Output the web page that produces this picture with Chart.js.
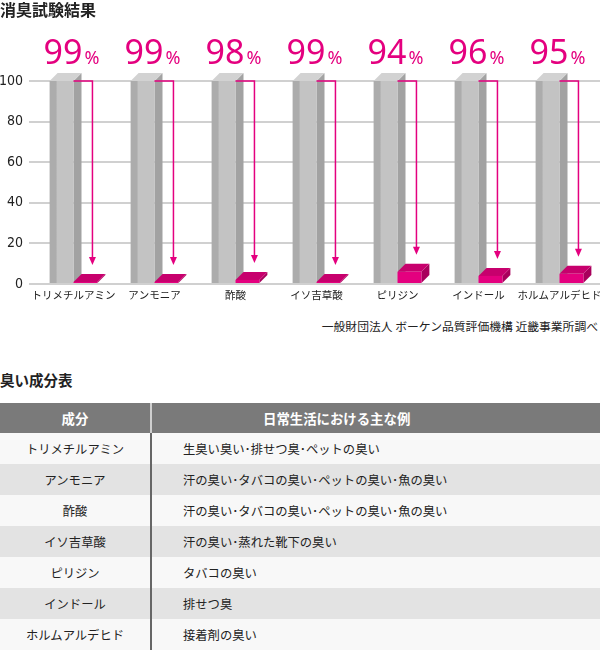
<!DOCTYPE html>
<html lang="ja">
<head>
<meta charset="utf-8">
<title>消臭試験結果</title>
<script src="https://cdn.jsdelivr.net/npm/chart.js@4.4.1/dist/chart.umd.min.js"></script>
<style>
  html, body { margin: 0; padding: 0; background: #fff; }
  body {
    width: 600px; height: 650px; position: relative; overflow: hidden;
    font-family: "Noto Sans CJK JP", sans-serif; color: #222;
  }
  #chartBox { position: absolute; left: 0; top: 0; }
  .heading { position: absolute; left: 0; font-weight: bold; line-height: 18px; }
  .source { position: absolute; right: 2px; top: 317px; font-size: 11.8px; line-height: 18px; color: #222; }
  table {
    position: absolute; left: 0; top: 403px; width: 600px;
    border-collapse: collapse; table-layout: fixed;
  }
  th, td { padding: 0; }
  th { background: #7a7a7a; color: #fff; height: 30px; font-size: 13.4px; font-weight: bold; text-align: center; }
  th.c1 { border-right: 2px solid #cfcfcf; }
  th.c2 { text-align: left; padding-left: 111px; }
  td { height: 31px; font-size: 12.3px; color: #222; }
  td.c1 { text-align: center; border-right: 2px solid #666; }
  td.c2 { padding-left: 31px; }
  tbody tr:nth-child(odd) td { background: #f8f8f8; }
  tbody tr:nth-child(even) td { background: #e3e3e3; }
</style>
</head>
<body>
<canvas id="chartBox" width="600" height="305"></canvas>
<div class="heading" style="top:0; font-size:16px">消臭試験結果</div>
<div class="source">一般財団法人 ボーケン品質評価機構 近畿事業所調べ</div>
<div class="heading" style="top:371px; font-size:14.5px">臭い成分表</div>
<table>
  <colgroup><col style="width:151px"><col></colgroup>
  <thead><tr><th class="c1">成分</th><th class="c2">日常生活における主な例</th></tr></thead>
  <tbody id="odorRows"></tbody>
</table>

<script>
// 試験データ
const categories = ["トリメチルアミン", "アンモニア", "酢酸", "イソ吉草酸", "ピリジン", "インドール", "ホルムアルデヒド"];
const beforeValues = [100, 100, 100, 100, 100, 100, 100];
const afterValues = [1, 1, 2, 1, 6, 4, 5];
const reductionRates = [99, 99, 98, 99, 94, 96, 95];
const yTicks = [0, 20, 40, 60, 80, 100];

// 臭い成分表
const examples = [
  "生臭い臭い･排せつ臭･ペットの臭い",
  "汗の臭い･タバコの臭い･ペットの臭い･魚の臭い",
  "汗の臭い･タバコの臭い･ペットの臭い･魚の臭い",
  "汗の臭い･蒸れた靴下の臭い",
  "タバコの臭い",
  "排せつ臭",
  "接着剤の臭い"
];

const PINK = "#e4007f";
const DEPTH = 8;

const tbody = document.getElementById("odorRows");
categories.forEach((name, i) => {
  const tr = document.createElement("tr");
  tr.innerHTML = '<td class="c1">' + name + '</td><td class="c2">' + examples[i] + '</td>';
  tbody.appendChild(tr);
});

function drawBox(ctx, bar, faces) {
  const left = bar.x - bar.width / 2;
  const right = bar.x + bar.width / 2;
  const top = Math.min(bar.y, bar.base);
  const bottom = Math.max(bar.y, bar.base);

  // 側面
  ctx.fillStyle = faces.side;
  ctx.beginPath();
  ctx.moveTo(right, top);
  ctx.lineTo(right + DEPTH, top - DEPTH);
  ctx.lineTo(right + DEPTH, bottom - DEPTH);
  ctx.lineTo(right, bottom);
  ctx.closePath();
  ctx.fill();

  // 上面
  ctx.fillStyle = faces.top;
  ctx.beginPath();
  ctx.moveTo(left, top);
  ctx.lineTo(left + DEPTH, top - DEPTH);
  ctx.lineTo(right + DEPTH, top - DEPTH);
  ctx.lineTo(right, top);
  ctx.closePath();
  ctx.fill();

  // 正面
  if (faces.edge) {
    const g = ctx.createLinearGradient(left, 0, right, 0);
    g.addColorStop(0, faces.edge);
    g.addColorStop(0.28, faces.edge);
    g.addColorStop(0.3, faces.front);
    g.addColorStop(1, faces.front);
    ctx.fillStyle = g;
  } else {
    ctx.fillStyle = faces.front;
  }
  ctx.fillRect(left, top, right - left, bottom - top);
}

const bars3d = {
  id: "bars3d",
  afterDatasetsDraw(chart) {
    const ctx = chart.ctx;
    const y = chart.scales.y;
    const grayBars = chart.getDatasetMeta(0).data;
    const pinkBars = chart.getDatasetMeta(1).data;
    const y100 = y.getPixelForValue(100);

    ctx.save();
    grayBars.forEach((gb, i) => {
      const pb = pinkBars[i];
      drawBox(ctx, gb, { front: "#c3c3c3", edge: "#acacac", side: "#a2a2a2", top: "#d2d2d2" });
      drawBox(ctx, pb, { front: PINK, side: "#a8005c", top: "#c7006d" });

      // 矢印
      const startX = gb.x + gb.width / 2;
      const ax = pb.x + 7;
      const tipY = pb.y - DEPTH - 9;
      ctx.strokeStyle = PINK;
      ctx.lineWidth = 1.5;
      ctx.beginPath();
      ctx.moveTo(startX, y100);
      ctx.lineTo(ax, y100);
      ctx.lineTo(ax, tipY - 6);
      ctx.stroke();
      ctx.fillStyle = PINK;
      ctx.beginPath();
      ctx.moveTo(ax - 3.5, tipY - 8);
      ctx.lineTo(ax + 3.5, tipY - 8);
      ctx.lineTo(ax, tipY);
      ctx.closePath();
      ctx.fill();

      // 除去率ラベル
      const num = String(reductionRates[i]);
      const cx = (gb.x + pb.x) / 2 - 2;
      const base = y100 - 17;
      const numFont = '400 34px "Noto Sans", sans-serif';
      const pctFont = '400 18px "Noto Sans", sans-serif';
      ctx.textBaseline = "alphabetic";
      ctx.textAlign = "left";
      ctx.font = numFont;
      const wNum = ctx.measureText(num).width;
      ctx.font = pctFont;
      const wPct = ctx.measureText("%").width;
      const x0 = cx - (wNum + 2 + wPct) / 2;
      ctx.font = numFont;
      ctx.fillText(num, x0, base);
      ctx.font = pctFont;
      ctx.fillText("%", x0 + wNum + 2, base);
    });
    ctx.restore();
  }
};

new Chart(document.getElementById("chartBox"), {
  type: "bar",
  data: {
    labels: categories,
    datasets: [
      { label: "試験前", data: beforeValues, backgroundColor: "rgba(0,0,0,0)", barPercentage: 1, categoryPercentage: 0.59 },
      { label: "試験後", data: afterValues, backgroundColor: "rgba(0,0,0,0)", barPercentage: 1, categoryPercentage: 0.59 }
    ]
  },
  options: {
    responsive: false,
    animation: false,
    layout: { padding: { top: 81, left: 0, right: 0, bottom: 0 } },
    plugins: { legend: { display: false }, tooltip: { enabled: false } },
    scales: {
      x: {
        grid: { display: false, drawTicks: false },
        border: { display: false },
        ticks: {
          autoSkip: false, maxRotation: 0, minRotation: 0, padding: 5, color: "#222",
          font: { family: '"Noto Sans CJK JP", sans-serif', size: 10.5 }
        },
        afterFit(scale) {
          scale.height = 21;
          // 右端のラベルは元図と同じく切れてよいので余白を取らない
          scale.paddingLeft = 0;
          scale.paddingRight = 0;
        }
      },
      y: {
        min: 0, max: 100,
        afterBuildTicks(scale) { scale.ticks = yTicks.map(v => ({ value: v })); },
        grid: { color: "#d0d0d0", lineWidth: 2, tickLength: 4 },
        border: { display: false },
        ticks: {
          padding: 6, color: "#222",
          font: { family: '"Liberation Sans Narrow", "DejaVu Sans Condensed", sans-serif', size: 14 }
        },
        afterFit(scale) { scale.width = 33; }
      }
    }
  },
  plugins: [bars3d]
});
</script>
</body>
</html>
